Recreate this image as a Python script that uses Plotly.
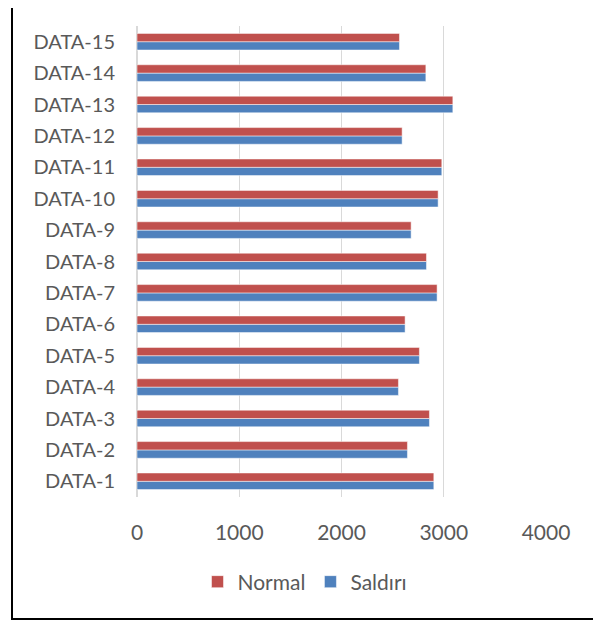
import plotly.graph_objects as go

categories = [f"DATA-{i}" for i in range(1, 16)]
normal = [2903, 2645, 2860, 2557, 2762, 2622, 2935, 2831, 2681, 2945, 2981, 2593, 3089, 2825, 2567]
saldiri = [2903, 2645, 2860, 2557, 2762, 2622, 2935, 2831, 2681, 2945, 2981, 2593, 3089, 2825, 2567]
x_ticks = [0, 1000, 2000, 3000, 4000]

RED = "#C0504D"
BLUE = "#4F81BD"
TXT = "#595959"
FONT = "Lato"

# the page body has an 8px margin; work in page pixels and offset
OFF = 8
W, H = 601 - OFF, 621 - OFF
L = 137 - OFF
T = 26 - OFF
R = W - (546 - OFF)
B = H - (497 - OFF)
pw = W - L - R
ph = H - T - B

def px_x(px):
    return (px - OFF - L) / pw

def px_y(py):
    return (H - B - (py - OFF)) / ph

fig = go.Figure()
fig.add_trace(go.Bar(
    y=categories, x=saldiri, name="Saldırı", orientation="h",
    marker=dict(color=BLUE, line=dict(color="rgba(255,255,255,0.5)", width=1)),
    legendrank=2,
))
fig.add_trace(go.Bar(
    y=categories, x=normal, name="Normal", orientation="h",
    marker=dict(color=RED, line=dict(color="rgba(255,255,255,0.5)", width=1)),
    legendrank=1,
))

fig.update_layout(
    width=W, height=H,
    margin=dict(l=L, r=R, t=T, b=B, pad=0),
    paper_bgcolor="white", plot_bgcolor="white",
    barmode="group", bargap=0.47, bargroupgap=0,
    font=dict(family=FONT, size=20, color=TXT),
    showlegend=True,
    legend=dict(
        orientation="h", xref="container", yref="container",
        x=(305 - OFF) / W, xanchor="center", y=1 - (582 - OFF) / H, yanchor="middle",
        font=dict(family=FONT, size=21, color=TXT),
        traceorder="normal", itemwidth=30,
    ),
    xaxis=dict(
        range=[0, 4000], tickvals=x_ticks, ticktext=[str(v) for v in x_ticks],
        showgrid=True, gridcolor="#d9d9d9", gridwidth=1,
        zeroline=True, zerolinecolor="#d9d9d9", zerolinewidth=2,
        showline=False, ticks="", ticklabelstandoff=21,
        tickfont=dict(family=FONT, size=21, color=TXT),
        fixedrange=True,
    ),
    yaxis=dict(
        categoryorder="array", categoryarray=categories,
        showgrid=False, zeroline=False, showline=False, ticks="",
        ticklabelstandoff=21,
        tickfont=dict(family=FONT, size=20, color=TXT),
        fixedrange=True,
    ),
    shapes=[dict(
        type="rect", xref="paper", yref="paper",
        x0=px_x(12), x1=px_x(598.5), y0=px_y(619), y1=px_y(-3),
        line=dict(color="black", width=2), fillcolor="rgba(0,0,0,0)", layer="above",
    )],
)

fig.write_html("out.html")
